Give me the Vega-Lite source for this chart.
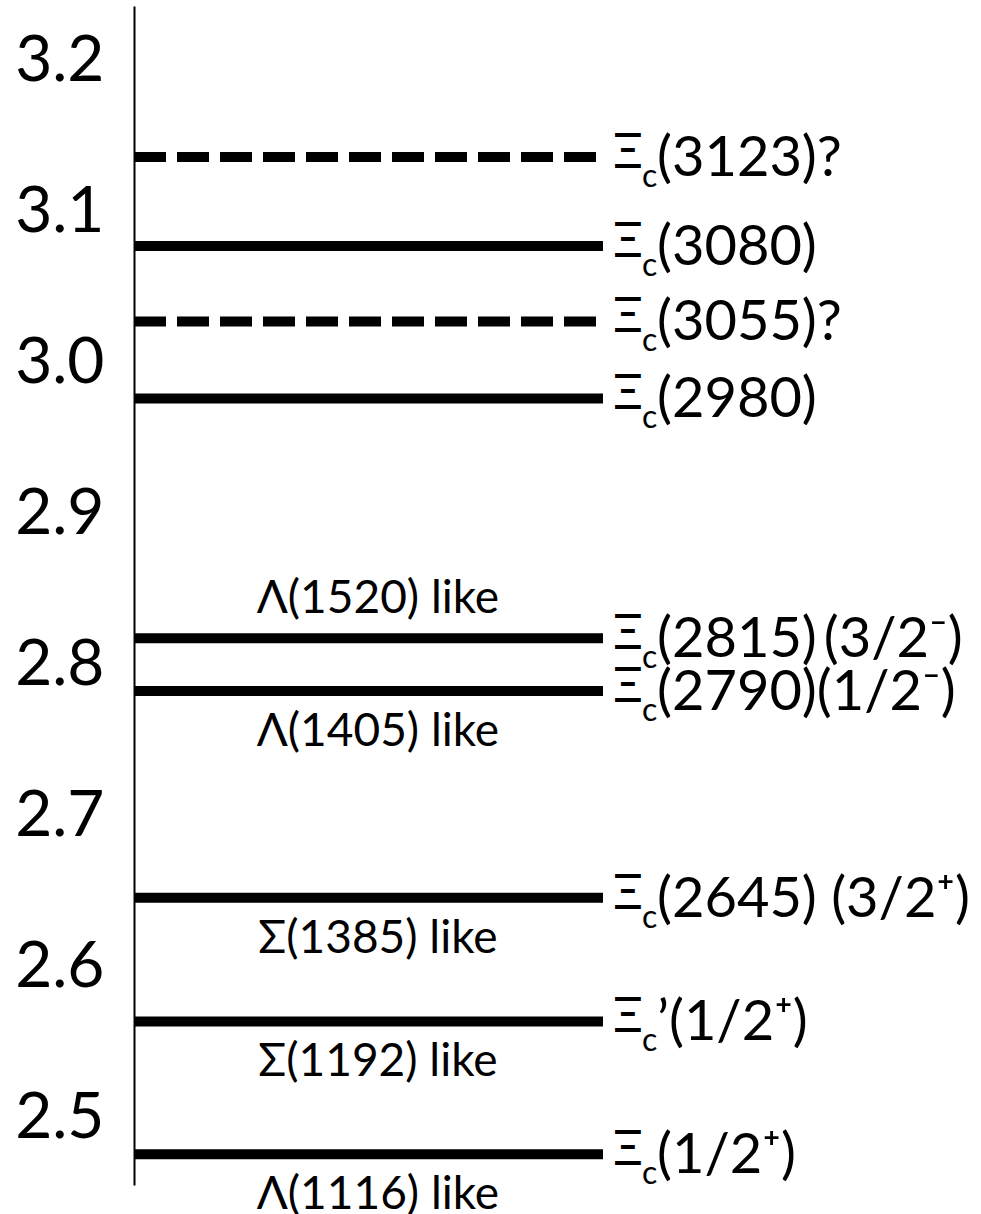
{
  "$schema": "https://vega.github.io/schema/vega-lite/v6.json",
  "width": 847,
  "height": 1179,
  "autosize": "none",
  "padding": {"left": 134, "top": 6, "right": 0, "bottom": 29},
  "background": "white",
  "config": {"view": {"stroke": null}, "font": "Lato, Open Sans, sans-serif"},
  "datasets": {
    "levels": [
      {"mass": 3.137, "status": "tentative", "tail": "(3123)?", "analog": "", "side": ""},
      {"mass": 3.078, "status": "established", "tail": "(3080)", "analog": "", "side": ""},
      {"mass": 3.028, "status": "tentative", "tail": "(3055)?", "analog": "", "side": ""},
      {"mass": 2.977, "status": "established", "tail": "(2980)", "analog": "", "side": ""},
      {"mass": 2.818, "status": "established", "tail": "(2815)\u2009(3/2\u207b)", "analog": "Λ(1520) like", "side": "above"},
      {"mass": 2.783, "status": "established", "tail": "(2790)(1/2\u207b)", "analog": "Λ(1405) like", "side": "below"},
      {"mass": 2.646, "status": "established", "tail": "(2645) (3/2\u207a)", "analog": "Σ(1385) like", "side": "below"},
      {"mass": 2.564, "status": "established", "tail": "\u2019(1/2\u207a)", "analog": "Σ(1192) like", "side": "below"},
      {"mass": 2.476, "status": "established", "tail": "(1/2\u207a)", "analog": "Λ(1116) like", "side": "below"}
    ]
  },
  "data": {"name": "levels"},
  "encoding": {
    "y": {
      "field": "mass",
      "type": "quantitative",
      "scale": {"domain": [2.4556, 3.2371], "nice": false, "zero": false},
      "axis": {
        "title": null,
        "values": [2.5, 2.6, 2.7, 2.8, 2.9, 3.0, 3.1, 3.2],
        "format": ".1f",
        "ticks": false,
        "grid": false,
        "labelFontSize": 64,
        "labelFont": "Lato, Open Sans, sans-serif",
        "labelColor": "black",
        "labelPadding": 30,
        "labelOverlap": false,
        "labelFlush": false,
        "labelBound": false,
        "domainColor": "black",
        "domainWidth": 2
      }
    }
  },
  "layer": [
    {
      "mark": {"type": "rule", "strokeWidth": 10, "strokeCap": "butt", "color": "black"},
      "encoding": {
        "x": {"datum": 0, "type": "quantitative", "scale": {"domain": [0, 1]}, "axis": null},
        "x2": {"datum": 0.5537},
        "strokeDash": {
          "field": "status",
          "type": "nominal",
          "scale": {"domain": ["established", "tentative"], "range": [[1, 0], [32, 11]]},
          "legend": null
        }
      }
    },
    {
      "mark": {"type": "text", "align": "left", "baseline": "middle", "dx": 10, "dy": -3, "fontSize": 48, "color": "black"},
      "encoding": {
        "x": {"datum": 0.5537, "type": "quantitative"},
        "text": {"value": "Ξ"}
      }
    },
    {
      "mark": {"type": "text", "align": "left", "baseline": "middle", "dx": 39, "dy": 20, "fontSize": 32, "color": "black"},
      "encoding": {
        "x": {"datum": 0.5537, "type": "quantitative"},
        "text": {"value": "c"}
      }
    },
    {
      "mark": {"type": "text", "align": "left", "baseline": "middle", "dx": 54, "dy": 2, "fontSize": 56, "color": "black"},
      "encoding": {
        "x": {"datum": 0.5537, "type": "quantitative"},
        "text": {"field": "tail"}
      }
    },
    {
      "transform": [{"filter": "datum.side === 'above'"}],
      "mark": {"type": "text", "align": "center", "baseline": "middle", "dy": -39, "fontSize": 46, "color": "black"},
      "encoding": {
        "x": {"datum": 0.288, "type": "quantitative"},
        "text": {"field": "analog"}
      }
    },
    {
      "transform": [{"filter": "datum.side === 'below'"}],
      "mark": {"type": "text", "align": "center", "baseline": "middle", "dy": 41, "fontSize": 46, "color": "black"},
      "encoding": {
        "x": {"datum": 0.288, "type": "quantitative"},
        "text": {"field": "analog"}
      }
    }
  ]
}
